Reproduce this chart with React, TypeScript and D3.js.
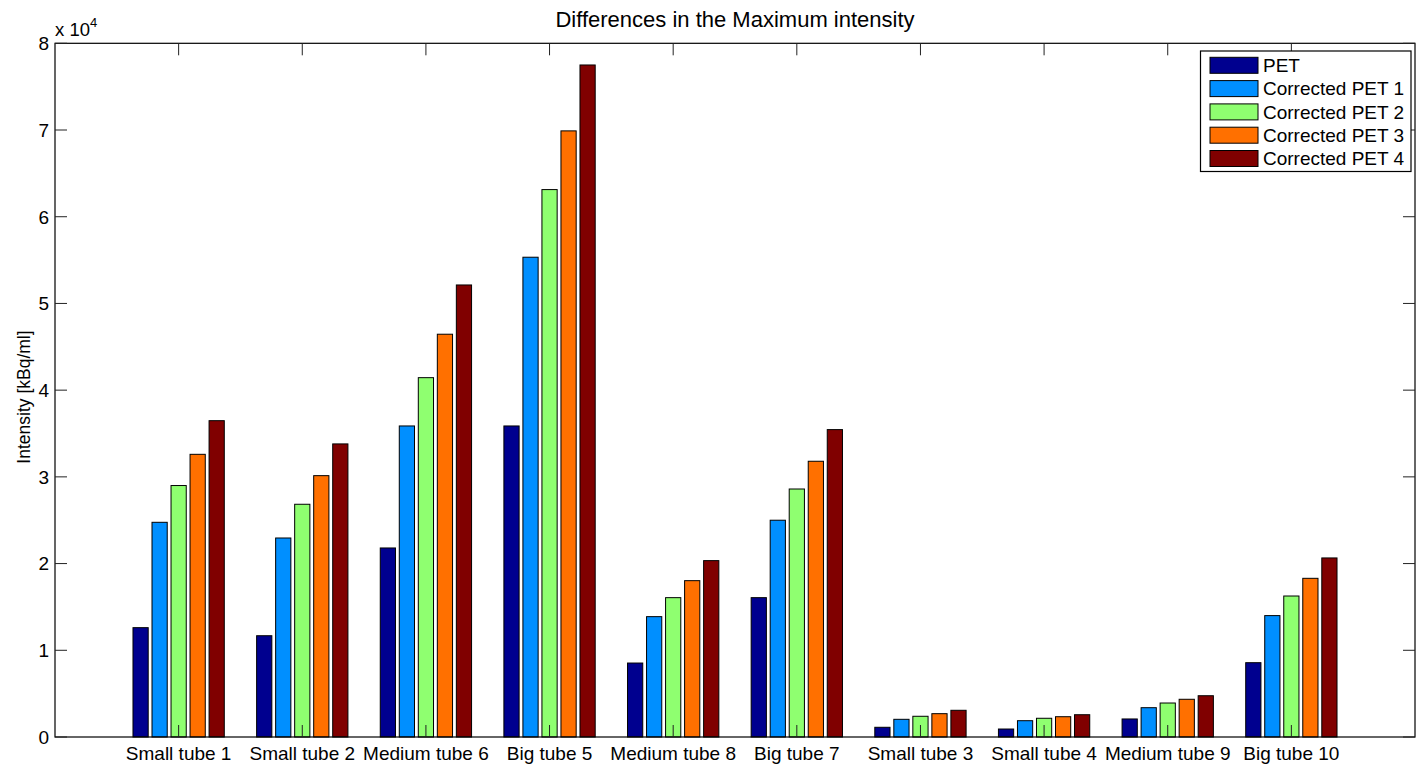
import React from "react";
import * as d3 from "d3";

const categories = [
  "Small tube 1", "Small tube 2", "Medium tube 6", "Big tube 5", "Medium tube 8",
  "Big tube 7", "Small tube 3", "Small tube 4", "Medium tube 9", "Big tube 10",
];
const seriesNames = ["PET", "Corrected PET 1", "Corrected PET 2", "Corrected PET 3", "Corrected PET 4"];
const seriesColors = ["#00008f", "#008fff", "#8fff70", "#ff7000", "#800000"];

// Maximum intensity per tube, kBq/ml
const pet = [12610, 11680, 21800, 35870, 8530, 16070, 1120, 920, 2080, 8570];
const corrected1 = [24760, 22950, 35870, 55330, 13880, 25000, 2040, 1880, 3380, 14000];
const corrected2 = [29000, 26840, 41440, 63130, 16070, 28600, 2390, 2160, 3920, 16260];
const corrected3 = [32600, 30140, 46450, 69900, 18030, 31800, 2690, 2340, 4350, 18300];
const corrected4 = [36480, 33800, 52130, 77500, 20340, 35450, 3080, 2570, 4760, 20650];
const seriesValues = [pet, corrected1, corrected2, corrected3, corrected4];

const yTicks = [0, 1, 2, 3, 4, 5, 6, 7, 8];
const yScaleFactor = 1e4;

const W = 1417;
const H = 769;
const left = 55;
const right = 1415;
const top = 43.3;
const bottom = 737;
const font = "'Liberation Sans', Arial, Helvetica, sans-serif";

export default function App() {
  const x = d3.scaleLinear().domain([0, categories.length + 1]).range([left, right]);
  const y = d3.scaleLinear().domain([0, 8 * yScaleFactor]).range([bottom, top]);

  const nSeries = seriesValues.length;
  const groupWidth = Math.min(0.8, nSeries / (nSeries + 1.5));
  const pitch = groupWidth / nSeries;
  const barW = x(0.8 * pitch) - x(0);
  const tickLen = 12;

  return (
    <svg width={W} height={H} style={{ position: "absolute", left: 0, top: 0, background: "#fff" }} fontFamily={font}>
      <rect x={0} y={0} width={W} height={H} fill="#fff" />

      {/* bars */}
      {seriesValues.map((vals, si) =>
        vals.map((v, ci) => {
          const cx = x(ci + 1 + (si - (nSeries - 1) / 2) * pitch);
          return (
            <rect
              key={`${si}-${ci}`}
              x={cx - barW / 2}
              y={y(v)}
              width={barW}
              height={y(0) - y(v)}
              fill={seriesColors[si]}
              stroke="#000"
              strokeWidth={1}
            />
          );
        })
      )}

      {/* axes box */}
      <rect x={left} y={top} width={right - left} height={bottom - top} fill="none" stroke="#000" strokeWidth={1.2} />

      {/* y ticks */}
      {yTicks.map((t) => {
        const yy = y(t * yScaleFactor);
        return (
          <g key={t}>
            <line x1={left} x2={left + tickLen} y1={yy} y2={yy} stroke="#222" />
            <line x1={right} x2={right - tickLen} y1={yy} y2={yy} stroke="#222" />
            <text x={49} y={yy} dy="0.36em" textAnchor="end" fontSize={19}>
              {t}
            </text>
          </g>
        );
      })}

      {/* x ticks */}
      {categories.map((c, i) => {
        const xx = x(i + 1);
        return (
          <g key={c}>
            <line x1={xx} x2={xx} y1={bottom} y2={bottom - tickLen} stroke="#222" />
            <line x1={xx} x2={xx} y1={top} y2={top + tickLen} stroke="#222" />
            <text x={xx} y={760} textAnchor="middle" fontSize={19}>
              {c}
            </text>
          </g>
        );
      })}

      {/* exponent */}
      <text x={55} y={36} fontSize={18.5}>
        x 10
        <tspan fontSize={13} dy={-9}>4</tspan>
      </text>

      {/* title */}
      <text x={(left + right) / 2} y={27} textAnchor="middle" fontSize={22}>
        Differences in the Maximum intensity
      </text>

      {/* y label */}
      <text transform={`translate(30, 397) rotate(-90)`} textAnchor="middle" fontSize={17.5}>
        Intensity [kBq/ml]
      </text>

      {/* legend */}
      <rect x={1200.5} y={51} width={210.5} height={120.5} fill="#fff" stroke="#000" strokeWidth={1.2} />
      {seriesNames.map((n, i) => {
        const cy = 65.3 + i * 23.3;
        return (
          <g key={n}>
            <rect x={1210} y={cy - 8} width={48} height={16} fill={seriesColors[i]} stroke="#000" />
            <text x={1263} y={cy} dy="0.36em" fontSize={19}>
              {n}
            </text>
          </g>
        );
      })}
    </svg>
  );
}
